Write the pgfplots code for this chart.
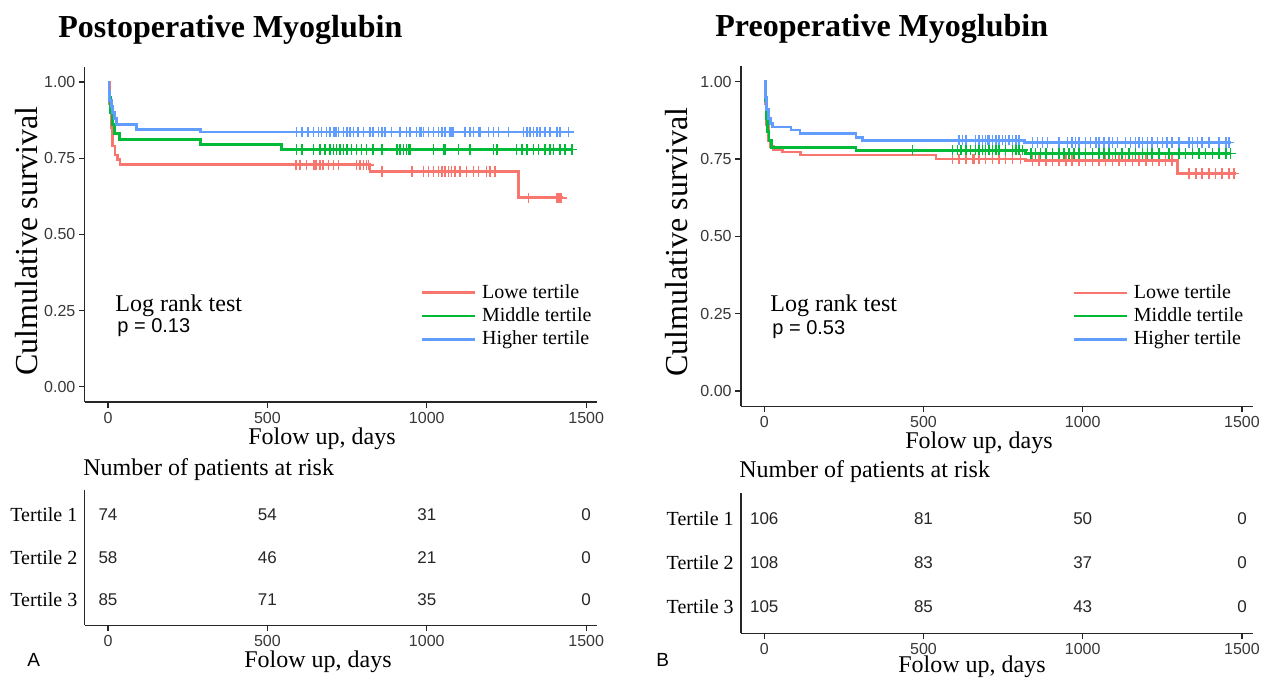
\documentclass[border=0pt]{standalone}
\usepackage{pgfplots}
\pgfplotsset{compat=1.18}
\usepackage{fontspec}
\setmainfont{Liberation Serif}
\setsansfont{Liberation Sans}
\definecolor{cR}{HTML}{F8766D}
\definecolor{cG}{HTML}{00BA38}
\definecolor{cB}{HTML}{619CFF}
\pgfplotsset{
  base/.style={
    scale only axis, anchor=south west, clip=false,
    xmin=-73, xmax=1533,
    axis x line*=bottom, axis y line*=left,
    axis line style={line width=0.75pt, black!85},
    xtick={0,500,1000,1500},
    tick align=outside, major tick length=3pt,
    tick style={line width=0.6pt, black!85},
    /pgf/number format/assume math mode=true,
    /pgf/number format/set thousands separator={},
    ticklabel style={font=\sffamily\fontsize{8}{9}\selectfont, text=black!78},
    xticklabel style={yshift=1.5pt},
  },
  km/.style={base,
    ymin=-0.05, ymax=1.05,
    ytick={0,0.25,0.5,0.75,1},
    yticklabels={0.00,0.25,0.50,0.75,1.00},
    yticklabel style={inner xsep=1.5pt},
    legend cell align=left,
    legend style={draw=none, fill=none, font=\fontsize{10}{11}\selectfont,
      row sep=1.2pt, inner sep=0pt, column sep=2pt, nodes={inner sep=1pt}},
    legend image code/.code={\draw[#1, line width=1.3pt] (0pt,0pt) -- (26.5pt,0pt);},
  },
  risk/.style={base,
    ymin=0.4, ymax=3.6,
    ytick={1,2,3}, yticklabels={Tertile 3,Tertile 2,Tertile 1},
    ytick style={draw=none},
    yticklabel style={font=\rmfamily\fontsize{10}{12}\selectfont, text=black, inner xsep=0.5pt},
  },
  curve/.style={const plot, line width=1.4pt, #1},
  cens/.style={only marks, mark=+, mark size=2.6pt, line width=0.75pt, #1, forget plot},
  nums/.style={draw=none, mark=none, nodes near coords, point meta=explicit symbolic,
    nodes near coords style={font=\sffamily\fontsize{8.5}{10}\selectfont, anchor=center, text=black!85}},
}
\begin{document}
\begin{tikzpicture}
\useasboundingbox (0pt,0pt) rectangle (632.5pt,-339pt);
\fill[white] (0pt,0pt) rectangle (632.5pt,-339pt);

% ---------------- Panel A: Kaplan-Meier ----------------
\begin{axis}[km, at={(42.35pt,-201pt)}, width=256pt, height=167.65pt,
  legend style={at={(0.655,0.358)}, anchor=north west}]
\addplot[curve=cR] coordinates {(0,1) (5,0.93) (10,0.85) (15,0.79) (22,0.76) (30,0.745) (38,0.728) (822,0.706) (1287,0.62) (1428,0.62)};
\addlegendentry{Lowe tertile}
\addplot[curve=cG] coordinates {(0,1) (3,0.95) (8,0.9) (14,0.86) (20,0.83) (35,0.81) (289,0.794) (545,0.778) (1460,0.778)};
\addlegendentry{Middle tertile}
\addplot[curve=cB] coordinates {(0,1) (3,0.97) (6,0.94) (10,0.92) (15,0.9) (20,0.88) (27,0.86) (90,0.845) (289,0.836) (1450,0.836)};
\addlegendentry{Higher tertile}
\addplot[cens=cR] table[row sep=\\] {x y\\
590 0.728\\ 603 0.728\\ 623 0.728\\ 644 0.728\\ 649 0.728\\ 654 0.728\\ 665 0.728\\ 675 0.728\\ 691 0.728\\ 707 0.728\\ 723 0.728\\ 780 0.728\\ 791 0.728\\ 801 0.728\\ 811 0.728\\ 817 0.728\\
859 0.706\\ 953 0.706\\ 989 0.706\\ 1005 0.706\\ 1021 0.706\\ 1036 0.706\\ 1047 0.706\\ 1057 0.706\\ 1068 0.706\\ 1078 0.706\\ 1089 0.706\\ 1104 0.706\\ 1125 0.706\\ 1146 0.706\\ 1162 0.706\\ 1188 0.706\\ 1198 0.706\\ 1214 0.706\\
1319 0.62\\ 1408 0.62\\ 1413 0.62\\ 1418 0.62\\ 1423 0.62\\
};
\addplot[cens=cG] table[row sep=\\] {x y\\
592 0.778\\ 608 0.778\\ 644 0.778\\ 665 0.778\\ 681 0.778\\ 696 0.778\\ 707 0.778\\ 717 0.778\\ 728 0.778\\ 738 0.778\\ 749 0.778\\ 764 0.778\\ 780 0.778\\ 796 0.778\\ 811 0.778\\ 832 0.778\\ 859 0.778\\ 906 0.778\\ 916 0.778\\ 927 0.778\\ 937 0.778\\ 942 0.778\\ 947 0.778\\ 1021 0.778\\ 1052 0.778\\ 1057 0.778\\ 1099 0.778\\ 1136 0.778\\ 1209 0.778\\ 1220 0.778\\ 1282 0.778\\ 1298 0.778\\ 1314 0.778\\ 1335 0.778\\ 1350 0.778\\ 1371 0.778\\ 1387 0.778\\ 1397 0.778\\ 1418 0.778\\ 1434 0.778\\ 1455 0.778\\
};
\addplot[cens=cB] table[row sep=\\] {x y\\
592 0.836\\ 608 0.836\\ 628 0.836\\ 644 0.836\\ 660 0.836\\ 670 0.836\\ 686 0.836\\ 696 0.836\\ 707 0.836\\ 712 0.836\\ 717 0.836\\ 723 0.836\\ 738 0.836\\ 749 0.836\\ 759 0.836\\ 770 0.836\\ 785 0.836\\ 801 0.836\\ 822 0.836\\ 832 0.836\\ 848 0.836\\ 859 0.836\\ 869 0.836\\ 890 0.836\\ 916 0.836\\ 937 0.836\\ 947 0.836\\ 968 0.836\\ 979 0.836\\ 984 0.836\\ 989 0.836\\ 1005 0.836\\ 1021 0.836\\ 1036 0.836\\ 1047 0.836\\ 1057 0.836\\ 1073 0.836\\ 1078 0.836\\ 1083 0.836\\ 1120 0.836\\ 1136 0.836\\ 1146 0.836\\ 1162 0.836\\ 1167 0.836\\ 1193 0.836\\ 1209 0.836\\ 1225 0.836\\ 1256 0.836\\ 1303 0.836\\ 1314 0.836\\ 1324 0.836\\ 1335 0.836\\ 1345 0.836\\ 1355 0.836\\ 1371 0.836\\ 1387 0.836\\ 1408 0.836\\ 1418 0.836\\ 1444 0.836\\
};
\end{axis}

% ---------------- Panel B: Kaplan-Meier ----------------
\begin{axis}[km, at={(370.5pt,-203.25pt)}, width=255.75pt, height=170.1pt,
  legend style={at={(0.647,0.366)}, anchor=north west}]
\addplot[curve=cR] coordinates {(0,1) (4,0.93) (8,0.86) (14,0.81) (20,0.79) (30,0.78) (58,0.773) (115,0.763) (539,0.75) (820,0.745) (1297,0.703) (1480,0.703)};
\addlegendentry{Lowe tertile}
\addplot[curve=cG] coordinates {(0,1) (3,0.94) (6,0.88) (10,0.84) (15,0.81) (22,0.788) (288,0.779) (821,0.768) (1467,0.768)};
\addlegendentry{Middle tertile}
\addplot[curve=cB] coordinates {(0,1) (4,0.95) (8,0.91) (14,0.88) (20,0.865) (26,0.854) (84,0.844) (112,0.833) (288,0.82) (309,0.811) (816,0.803) (1464,0.803)};
\addlegendentry{Higher tertile}
\addplot[cens=cR] table[row sep=\\] {x y\\
591 0.75\\ 612 0.75\\ 633 0.75\\ 654 0.75\\ 659 0.75\\ 675 0.75\\ 695 0.75\\ 716 0.75\\ 737 0.75\\ 758 0.75\\ 779 0.75\\ 805 0.75\\
842 0.745\\ 863 0.745\\ 884 0.745\\ 905 0.745\\ 926 0.745\\ 947 0.745\\ 967 0.745\\ 988 0.745\\ 1009 0.745\\ 1030 0.745\\ 1051 0.745\\ 1072 0.745\\ 1093 0.745\\ 1114 0.745\\ 1135 0.745\\ 1156 0.745\\ 1177 0.745\\ 1198 0.745\\ 1219 0.745\\ 1240 0.745\\ 1260 0.745\\ 1281 0.745\\
1334 0.703\\ 1355 0.703\\ 1375 0.703\\ 1396 0.703\\ 1417 0.703\\ 1438 0.703\\ 1459 0.703\\ 1475 0.703\\
};
\addplot[cens=cG] table[row sep=\\] {x y\\
465 0.779\\ 591 0.779\\ 607 0.779\\ 617 0.779\\ 633 0.779\\ 648 0.779\\ 664 0.779\\ 675 0.779\\ 685 0.779\\ 695 0.779\\ 706 0.779\\ 716 0.779\\ 727 0.779\\ 737 0.779\\ 758 0.779\\ 779 0.779\\ 790 0.779\\ 800 0.779\\ 811 0.779\\
837 0.768\\ 852 0.768\\ 868 0.768\\ 884 0.768\\ 905 0.768\\ 926 0.768\\ 941 0.768\\ 957 0.768\\ 973 0.768\\ 988 0.768\\ 1009 0.768\\ 1030 0.768\\ 1051 0.768\\ 1067 0.768\\ 1082 0.768\\ 1103 0.768\\ 1124 0.768\\ 1145 0.768\\ 1166 0.768\\ 1187 0.768\\ 1203 0.768\\ 1218 0.768\\ 1239 0.768\\ 1271 0.768\\ 1302 0.768\\ 1323 0.768\\ 1344 0.768\\ 1365 0.768\\ 1386 0.768\\ 1407 0.768\\ 1428 0.768\\ 1449 0.768\\ 1464 0.768\\
};
\addplot[cens=cB] table[row sep=\\] {x y\\
612 0.811\\ 622 0.811\\ 633 0.811\\ 664 0.811\\ 675 0.811\\ 685 0.811\\ 695 0.811\\ 701 0.811\\ 706 0.811\\ 716 0.811\\ 727 0.811\\ 737 0.811\\ 748 0.811\\ 758 0.811\\ 769 0.811\\ 779 0.811\\ 790 0.811\\ 800 0.811\\
842 0.803\\ 858 0.803\\ 873 0.803\\ 889 0.803\\ 926 0.803\\ 952 0.803\\ 967 0.803\\ 978 0.803\\ 988 0.803\\ 1009 0.803\\ 1025 0.803\\ 1041 0.803\\ 1051 0.803\\ 1067 0.803\\ 1082 0.803\\ 1093 0.803\\ 1109 0.803\\ 1135 0.803\\ 1150 0.803\\ 1166 0.803\\ 1177 0.803\\ 1187 0.803\\ 1203 0.803\\ 1218 0.803\\ 1234 0.803\\ 1250 0.803\\ 1265 0.803\\ 1281 0.803\\ 1302 0.803\\ 1334 0.803\\ 1344 0.803\\ 1360 0.803\\ 1375 0.803\\ 1396 0.803\\ 1428 0.803\\ 1449 0.803\\ 1459 0.803\\
};
\end{axis}

% ---------------- Risk tables ----------------
\begin{axis}[risk, at={(42.35pt,-312.75pt)}, width=256pt, height=68pt]
\addplot[nums] coordinates {(0,3)[74] (500,3)[54] (1000,3)[31] (1500,3)[0]
  (0,2)[58] (500,2)[46] (1000,2)[21] (1500,2)[0]
  (0,1)[85] (500,1)[71] (1000,1)[35] (1500,1)[0]};
\end{axis}
\begin{axis}[risk, at={(370.5pt,-316.7pt)}, width=255.75pt, height=70.4pt]
\addplot[nums] coordinates {(0,3)[106] (500,3)[81] (1000,3)[50] (1500,3)[0]
  (0,2)[108] (500,2)[83] (1000,2)[37] (1500,2)[0]
  (0,1)[105] (500,1)[85] (1000,1)[43] (1500,1)[0]};
\end{axis}

% ---------------- Text ----------------
\begin{scope}[x=0.5pt,y=-0.5pt]
\node[anchor=base west, inner sep=0pt, font=\bfseries\fontsize{16}{19}\selectfont] at (58,37.5) {Postoperative Myoglubin};
\node[anchor=base west, inner sep=0pt, font=\bfseries\fontsize{16}{19}\selectfont] at (715,37) {Preoperative Myoglubin};
\node[rotate=90, inner sep=0pt, font=\fontsize{16}{19}\selectfont] at (27,241) {Culmulative survival};
\node[rotate=90, inner sep=0pt, font=\fontsize{16}{19}\selectfont] at (677,242) {Culmulative survival};
\node[anchor=base, inner sep=0pt, font=\fontsize{12}{14}\selectfont] at (322,445) {Folow up, days};
\node[anchor=base, inner sep=0pt, font=\fontsize{12}{14}\selectfont] at (979,448.5) {Folow up, days};
\node[anchor=base west, inner sep=0pt, font=\fontsize{12}{14}\selectfont] at (83,476) {Number of patients at risk};
\node[anchor=base west, inner sep=0pt, font=\fontsize{12}{14}\selectfont] at (739,478) {Number of patients at risk};
\node[anchor=base, inner sep=0pt, font=\fontsize{12}{14}\selectfont] at (318,667.5) {Folow up, days};
\node[anchor=base, inner sep=0pt, font=\fontsize{12}{14}\selectfont] at (972,673) {Folow up, days};
\node[anchor=base west, inner sep=0pt, font=\sffamily\fontsize{9.5}{11}\selectfont] at (27,667) {A};
\node[anchor=base west, inner sep=0pt, font=\sffamily\fontsize{9.5}{11}\selectfont] at (656,667) {B};
\node[anchor=base west, inner sep=0pt, font=\fontsize{12}{14}\selectfont] at (115,311.5) {Log rank test};
\node[anchor=base west, inner sep=0pt, font=\sffamily\fontsize{10}{12}\selectfont] at (117,333) {p = 0.13};
\node[anchor=base west, inner sep=0pt, font=\fontsize{12}{14}\selectfont] at (770,311.5) {Log rank test};
\node[anchor=base west, inner sep=0pt, font=\sffamily\fontsize{10}{12}\selectfont] at (772,335) {p = 0.53};
\end{scope}
\end{tikzpicture}
\end{document}
